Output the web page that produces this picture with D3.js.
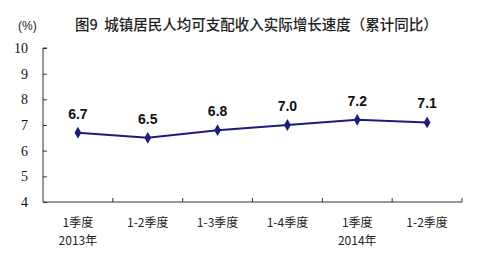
<!DOCTYPE html>
<html>
<head>
<meta charset="utf-8">
<script src="https://cdn.jsdelivr.net/npm/d3@7"></script>
<style>
body { margin: 0; background: #fff; }
</style>
</head>
<body>
<script>
var categories = ['1季度', '1-2季度', '1-3季度', '1-4季度', '1季度', '1-2季度'];
var years = ['2013年', '', '', '', '2014年', ''];
var values = [6.7, 6.5, 6.8, 7.0, 7.2, 7.1];
var yTicks = [4, 5, 6, 7, 8, 9, 10];

var width = 481, height = 261;
var svg = d3.select('body').append('svg')
	.attr('width', width)
	.attr('height', height);

var x = d3.scaleBand().domain(d3.range(categories.length)).range([43, 462]);
var y = d3.scaleLinear().domain([4, 10]).range([202, 48]);

// title
svg.append('text')
	.attr('x', 75).attr('y', 30)
	.attr('font-family', 'Noto Sans CJK SC')
	.attr('font-size', 14.5)
	.attr('font-weight', 500)
	.attr('fill', '#222')
	.style('white-space', 'pre')
	.text('图9  城镇居民人均可支配收入实际增长速度（累计同比）');
svg.append('text')
	.attr('x', 18).attr('y', 30)
	.attr('font-family', 'Liberation Sans')
	.attr('font-size', 12)
	.attr('fill', '#222')
	.text('(%)');

// y axis
var yAxis = svg.append('g')
	.attr('transform', 'translate(43,0)')
	.call(d3.axisLeft(y).tickValues(yTicks).tickFormat(d3.format('d')).tickSize(-4).tickPadding(15));
yAxis.selectAll('text')
	.attr('font-family', 'Liberation Serif')
	.attr('font-size', 14)
	.attr('fill', '#111');
yAxis.selectAll('.domain').attr('d', 'M4,' + y(10) + 'H0V' + y(4)).attr('stroke', '#333');
yAxis.selectAll('line').attr('stroke', '#333');

// x axis
var xAxis = svg.append('g')
	.attr('transform', 'translate(0,' + y(4) + ')');
xAxis.append('line')
	.attr('x1', 43).attr('x2', 462)
	.attr('stroke', '#333');
xAxis.selectAll('.tick')
	.data(d3.range(categories.length))
	.enter().append('line')
	.attr('x1', function(d) { return x(d) + x.bandwidth(); })
	.attr('x2', function(d) { return x(d) + x.bandwidth(); })
	.attr('y1', 0).attr('y2', -4)
	.attr('stroke', '#333');
xAxis.selectAll('.cat')
	.data(categories)
	.enter().append('text')
	.attr('x', function(d, i) { return x(i) + x.bandwidth() / 2; })
	.attr('y', 25)
	.attr('text-anchor', 'middle')
	.attr('font-family', 'Noto Sans CJK SC')
	.attr('font-size', 12)
	.attr('fill', '#222')
	.text(function(d) { return d; });
xAxis.selectAll('.yr')
	.data(years)
	.enter().append('text')
	.attr('x', function(d, i) { return x(i) + x.bandwidth() / 2; })
	.attr('y', 43)
	.attr('text-anchor', 'middle')
	.attr('font-family', 'Noto Sans CJK SC')
	.attr('font-size', 12)
	.attr('fill', '#222')
	.text(function(d) { return d; });

// line
var line = d3.line()
	.x(function(d, i) { return x(i) + x.bandwidth() / 2; })
	.y(function(d) { return y(d); });
svg.append('path')
	.datum(values)
	.attr('d', line)
	.attr('fill', 'none')
	.attr('stroke', '#1c1c80')
	.attr('stroke-width', 2);

svg.selectAll('.pt')
	.data(values)
	.enter().append('path')
	.attr('d', d3.symbol(d3.symbolDiamond, 40))
	.attr('transform', function(d, i) { return 'translate(' + (x(i) + x.bandwidth() / 2) + ',' + y(d) + ')'; })
	.attr('fill', '#1c1c80');

svg.selectAll('.lbl')
	.data(values)
	.enter().append('text')
	.attr('x', function(d, i) { return x(i) + x.bandwidth() / 2; })
	.attr('y', function(d) { return y(d) - 14; })
	.attr('text-anchor', 'middle')
	.attr('font-family', 'Liberation Sans')
	.attr('font-weight', 'bold')
	.attr('font-size', 14)
	.attr('fill', '#111')
	.text(function(d) { return d.toFixed(1); });
</script>
</body>
</html>
